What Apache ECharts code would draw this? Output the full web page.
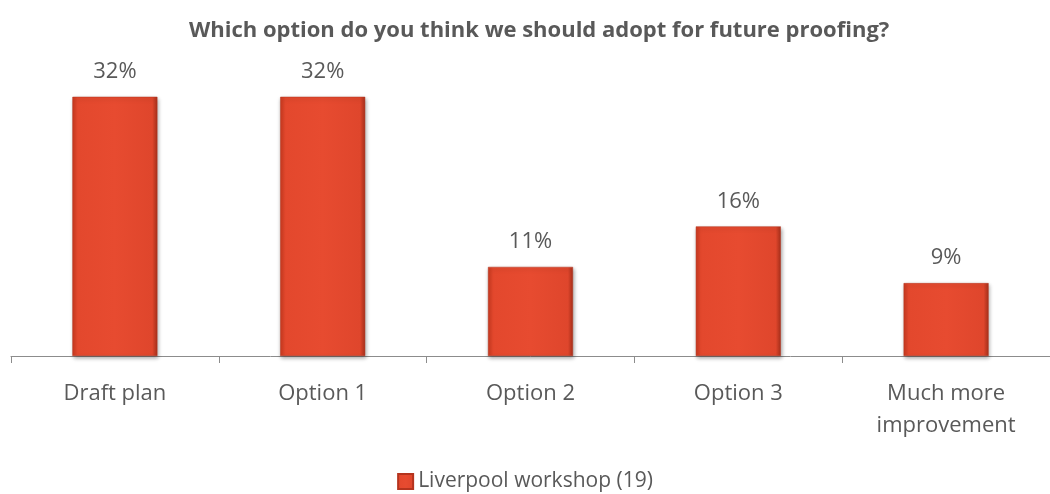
<!DOCTYPE html>
<html><head><meta charset="utf-8">
<script src="https://cdn.jsdelivr.net/npm/echarts@6/dist/echarts.min.js"></script>
<style>html,body{margin:0;padding:0;background:#fff}#c{width:1050px;height:494px}</style>
</head><body><div id="c"></div>
<script>
const categories = ['Draft plan', 'Option 1', 'Option 2', 'Option 3', 'Much more\nimprovement'];
const seriesName = 'Liverpool workshop (19)';
const values = [32, 32, 11, 16, 9];
const titleText = 'Which option do you think we should adopt for future proofing?';

const font = '"Open Sans", "Noto Sans", sans-serif';
const barFill = new echarts.graphic.LinearGradient(0, 0, 1, 0, [
  {offset: 0, color: '#C9391F'},
  {offset: 0.06, color: '#E3482D'},
  {offset: 0.5, color: '#E74B30'},
  {offset: 0.94, color: '#DF462C'},
  {offset: 1, color: '#A8301B'}
]);
const chart = echarts.init(document.getElementById('c'));
chart.setOption({
  animation: false,
  title: {text: titleText, left: 184, top: 15,
    textStyle: {fontFamily: font, fontSize: 22, fontWeight: 'bold', color: '#595959'}},
  legend: {bottom: -3, left: 'center', itemWidth: 15, itemHeight: 15, itemGap: 5,
    icon: 'rect',
    textStyle: {fontFamily: font, fontSize: 21, color: '#595959'}},
  grid: {left: 11, top: 32, width: 1049, bottom: 138, containLabel: false},
  xAxis: {type: 'category', data: categories,
    axisLine: {lineStyle: {color: '#8C8C8C', width: 1}},
    axisTick: {show: true, length: 7, lineStyle: {color: '#8C8C8C'}},
    axisLabel: {fontFamily: font, fontSize: 22, color: '#595959', margin: 22, lineHeight: 32}},
  yAxis: {type: 'value', min: 0, max: 40, show: false, splitLine: {show: false}},
  series: [{
    name: seriesName, type: 'bar', data: values, barWidth: 85,
    itemStyle: {color: barFill, borderColor: '#B5341E', borderWidth: 0.5,
      shadowColor: 'rgba(0,0,0,0.35)', shadowBlur: 4, shadowOffsetX: 1, shadowOffsetY: 2},
    label: {show: true, position: 'top', distance: 14, formatter: '{c}%',
      fontFamily: font, fontSize: 22, color: '#595959'}
  }]
});
</script></body></html>
